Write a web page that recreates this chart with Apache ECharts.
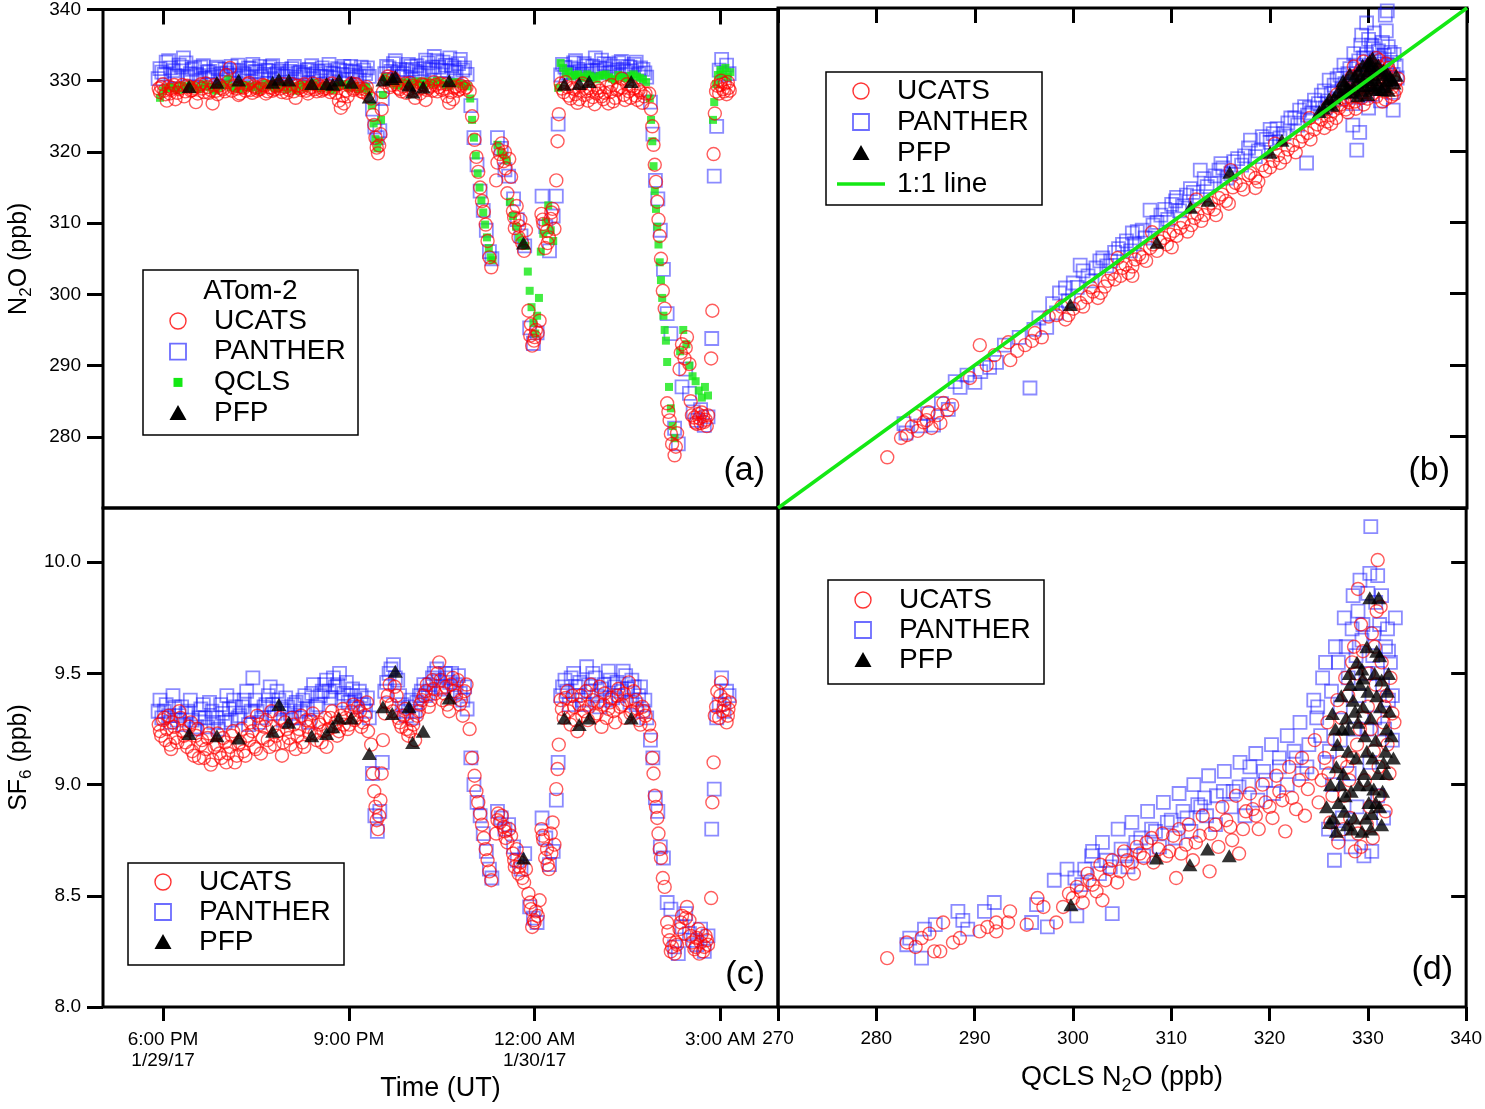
<!DOCTYPE html>
<html>
<head>
<meta charset="utf-8">
<title>ATom-2 N2O / SF6</title>
<script src="https://cdn.jsdelivr.net/npm/echarts@6/dist/echarts.min.js"></script>
<style>
html, body { margin: 0; padding: 0; background: #fff; }
#chart { width: 1485px; height: 1109px; }
</style>
</head>
<body>
<div id="chart"></div>
<script>
// time in decimal hours UT counted from 00:00 on 1/29/17
var timeMin = 17.03, timeMax = 27.93;
var timeTicks = [18, 21, 24, 27];
var timeTickLabels = ['6:00 PM\n1/29/17', '9:00 PM', '12:00 AM\n1/30/17', '3:00 AM'];
var n2oTicks = [270, 280, 290, 300, 310, 320, 330, 340];
var sf6Ticks = [8.0, 8.5, 9.0, 9.5, 10.0];
var oneToOne = [270, 340];

// UCATS: [time, N2O, SF6]
var ucats = [
 [17.93,328.9,9.27],[17.97,329.1,9.22],[18.02,328.6,9.30],[18.06,327.2,9.25],[18.11,328.2,9.18],[18.15,329.0,9.28],[18.20,327.4,9.21],[18.26,328.8,9.33],[18.31,329.4,9.24],[18.36,328.5,9.19],
 [18.42,329.1,9.26],[18.47,328.7,9.15],[18.53,327.0,9.22],[18.58,329.2,9.12],[18.63,328.9,9.20],[18.69,329.6,9.16],[18.74,328.3,9.23],[18.80,326.8,9.11],[18.86,328.6,9.18],[18.91,329.3,9.14],
 [18.97,328.8,9.21],[19.02,330.8,9.10],[19.08,331.8,9.17],[19.13,329.1,9.24],[19.19,328.9,9.13],[19.24,328.2,9.19],[19.30,329.0,9.15],[19.36,329.5,9.22],[19.41,328.7,9.28],[19.47,329.2,9.17],
 [19.52,328.6,9.31],[19.58,328.9,9.14],[19.64,329.3,9.26],[19.69,328.5,9.20],[19.75,329.0,9.33],[19.80,328.8,9.18],[19.86,329.4,9.24],[19.92,328.4,9.13],[19.97,329.1,9.28],[20.03,328.7,9.21],
 [20.08,329.5,9.30],[20.14,327.6,9.16],[20.20,329.0,9.25],[20.25,329.2,9.19],[20.31,328.6,9.29],[20.36,328.9,9.23],[20.42,329.6,9.32],[20.48,328.5,9.20],[20.53,329.1,9.27],[20.59,328.8,9.24],
 [20.64,329.3,9.17],[20.70,328.4,9.30],[20.76,329.0,9.26],[20.81,329.4,9.22],[20.87,326.2,9.31],[20.92,326.8,9.27],[20.98,327.8,9.25],[21.04,329.6,9.33],[21.09,328.9,9.29],[21.15,329.2,9.35],
 [21.20,328.5,9.26],[21.26,328.8,9.31],[21.31,328.0,9.24],
 [17.95,328.4,9.24],[18.00,329.5,9.29],[18.04,328.1,9.20],[18.09,329.2,9.31],[18.13,328.7,9.16],[18.18,329.4,9.26],[18.23,328.3,9.19],[18.28,329.0,9.30],[18.34,327.8,9.22],[18.39,329.3,9.17],
 [18.45,328.6,9.28],[18.50,329.0,9.13],[18.56,328.2,9.25],[18.61,329.5,9.18],[18.66,328.4,9.12],[18.72,329.1,9.21],[18.77,328.7,9.09],[18.83,329.4,9.17],[18.88,328.1,9.23],[18.94,329.0,9.12],
 [19.00,328.5,9.19],[19.05,329.8,9.14],[19.11,328.6,9.22],[19.16,329.3,9.10],[19.22,328.0,9.18],[19.27,329.1,9.25],[19.33,328.6,9.13],[19.39,329.7,9.20],[19.44,328.3,9.24],[19.50,329.0,9.16],
 [19.55,328.8,9.27],[19.61,329.4,9.21],[19.66,328.2,9.29],[19.72,329.1,9.17],[19.77,328.6,9.26],[19.83,329.2,9.22],[19.89,328.9,9.30],[19.94,329.5,9.19],[20.00,328.3,9.25],[20.06,329.0,9.18],
 [20.11,328.5,9.27],[20.17,329.3,9.22],[20.23,328.7,9.31],[20.28,329.5,9.17],[20.34,328.2,9.26],[20.39,329.1,9.29],[20.45,328.8,9.23],[20.51,329.4,9.28],[20.56,328.6,9.19],[20.62,329.0,9.30],
 [20.67,328.9,9.25],[20.73,329.6,9.33],[20.79,328.3,9.28],[20.84,327.2,9.24],[20.90,327.9,9.34],[20.95,328.6,9.30],[21.01,329.3,9.27],[21.07,328.7,9.36],[21.12,329.5,9.30],[21.18,328.9,9.33],
 [21.23,328.4,9.28],[21.29,329.1,9.37],
 [21.36,327.5,9.18],[21.39,325.2,9.05],[21.41,323.8,8.97],[21.43,322.0,8.90],[21.45,320.6,8.84],[21.47,319.8,8.80],[21.49,320.9,8.86],[21.51,322.5,8.93],[21.53,326.0,9.05],[21.55,328.4,9.20],
 [21.58,329.8,9.32],[21.63,330.6,9.40],[21.69,329.4,9.36],[21.74,330.1,9.44],[21.80,329.0,9.30],[21.85,328.5,9.26],[21.91,329.6,9.34],[21.96,328.8,9.22],[22.02,329.3,9.29],[22.07,327.6,9.20],
 [22.13,328.9,9.33],[22.18,329.5,9.38],[22.24,327.3,9.42],[22.29,329.0,9.35],[22.35,328.6,9.47],[22.40,329.4,9.41],[22.46,329.1,9.55],[22.51,328.7,9.38],[22.57,329.5,9.44],[22.62,326.9,9.33],
 [22.68,327.4,9.48],[22.73,329.2,9.40],[22.79,328.8,9.36],[22.84,329.6,9.31],[22.90,329.1,9.45],
 [21.61,330.2,9.37],[21.66,329.1,9.45],[21.71,330.4,9.33],[21.77,329.5,9.40],[21.82,328.8,9.28],[21.88,329.2,9.31],[21.93,328.3,9.25],[21.99,329.7,9.24],[22.04,328.6,9.27],[22.10,329.1,9.31],
 [22.15,328.2,9.36],[22.21,329.4,9.40],[22.26,328.7,9.45],[22.32,329.3,9.38],[22.37,329.8,9.43],[22.43,328.5,9.50],[22.48,329.6,9.47],[22.54,328.9,9.41],[22.59,327.8,9.36],[22.65,328.4,9.45],
 [22.70,329.0,9.42],[22.76,328.6,9.47],[22.81,329.3,9.38],[22.87,328.9,9.42],
 [22.95,328.5,9.25],[22.99,325.0,9.12],[23.03,321.7,9.04],[23.06,319.3,8.97],[23.09,317.2,8.92],[23.12,315.0,8.87],[23.15,313.1,8.82],[23.18,311.6,8.76],[23.21,309.8,8.71],[23.24,307.5,8.66],
 [23.27,305.2,8.61],[23.30,303.8,8.57],
 [23.38,316.0,8.78],[23.41,320.4,8.87],[23.44,319.7,8.83],[23.47,321.2,8.86],[23.50,318.7,8.81],[23.53,317.7,8.76],[23.56,314.2,8.74],[23.59,319.0,8.80],[23.62,316.5,8.77],
 [23.65,311.7,8.69],[23.68,309.3,8.63],[23.71,312.4,8.71],[23.74,308.0,8.60],[23.77,310.5,8.65],[23.80,307.2,8.58],[23.83,306.1,8.56],[23.86,309.0,8.62],
 [23.90,297.7,8.51],[23.93,294.2,8.47],[23.96,292.8,8.36],[23.99,293.5,8.39],[24.02,295.0,8.43],[24.05,294.6,8.41],[24.08,296.3,8.48],
 [24.11,311.3,8.80],[24.14,309.9,8.75],[24.17,306.5,8.67],[24.20,308.9,8.71],[24.23,308.0,8.62],[24.26,310.6,8.78],[24.29,312.0,8.83],[24.32,309.2,8.73],
 [23.40,318.5,8.84],[23.52,320.0,8.79],[23.67,310.8,8.66],[23.75,309.6,8.63],[23.94,295.8,8.44],[24.00,294.0,8.38],[24.13,310.5,8.77],[24.21,307.2,8.64],[24.27,311.5,8.69],
 [24.35,316.0,8.98],[24.37,321.5,9.07],[24.39,325.3,9.18],
 [24.42,329.6,9.38],[24.47,328.4,9.30],[24.53,329.1,9.42],[24.58,327.5,9.27],[24.64,328.8,9.35],[24.69,326.9,9.24],[24.75,329.3,9.40],[24.80,328.0,9.33],[24.86,327.2,9.29],[24.91,328.6,9.45],
 [24.97,326.7,9.31],[25.02,329.0,9.37],[25.08,327.8,9.26],[25.13,328.3,9.41],[25.19,326.8,9.34],[25.24,329.4,9.39],[25.30,327.6,9.28],[25.35,328.9,9.43],[25.41,330.3,9.36],[25.46,327.3,9.30],
 [25.52,328.5,9.46],[25.57,329.2,9.33],[25.63,327.9,9.38],[25.68,328.7,9.29],[25.74,326.9,9.35],[25.79,328.2,9.31],
 [24.44,328.9,9.34],[24.50,329.8,9.39],[24.55,327.9,9.33],[24.61,329.0,9.40],[24.66,328.1,9.29],[24.72,327.4,9.36],[24.77,329.6,9.31],[24.83,328.5,9.42],[24.88,329.0,9.35],[24.94,327.7,9.38],
 [25.00,328.2,9.32],[25.05,328.6,9.44],[25.11,327.4,9.36],[25.16,329.1,9.30],[25.22,328.4,9.37],[25.27,327.1,9.33],[25.33,328.7,9.40],[25.38,329.1,9.35],[25.44,328.0,9.41],[25.49,329.5,9.38],
 [25.55,327.6,9.32],[25.60,328.9,9.42],[25.66,327.3,9.34],[25.71,328.4,9.27],[25.77,327.8,9.33],
 [25.85,328.2,9.27],[25.88,326.0,9.22],[25.90,323.6,9.12],[25.92,321.0,9.05],[25.94,318.2,8.95],[25.96,315.8,8.90],[25.98,313.0,8.85],[26.00,310.5,8.78],[26.02,308.2,8.71],[26.04,305.0,8.67],
 [26.07,300.5,8.58],[26.10,298.0,8.54],
 [26.14,284.7,8.38],[26.18,282.3,8.30],[26.22,279.0,8.27],[26.26,277.4,8.24],[26.30,280.5,8.28],[26.34,289.5,8.35],[26.38,293.0,8.41],[26.42,291.0,8.33],[26.46,294.0,8.45],[26.50,290.2,8.39],
 [26.54,283.0,8.29],[26.58,282.7,8.26],[26.62,281.8,8.31],[26.66,282.6,8.24],[26.70,283.4,8.33],[26.74,282.1,8.27],[26.78,281.5,8.30],
 [26.16,283.5,8.34],[26.20,280.4,8.25],[26.28,278.6,8.29],[26.36,291.8,8.38],[26.44,292.5,8.40],[26.52,285.0,8.32],[26.60,282.0,8.27],[26.64,283.2,8.35],[26.68,281.9,8.29],[26.72,282.9,8.25],
 [26.76,282.4,8.32],[26.80,283.0,8.28],
 [26.85,291.0,8.49],[26.87,297.7,8.92],[26.89,319.7,9.10],[26.91,325.4,9.31],[26.93,328.5,9.35],[26.95,329.3,9.42],[26.98,328.2,9.30],[27.01,330.0,9.46],[27.04,328.8,9.33],[27.07,329.6,9.38],
 [27.10,328.1,9.28],[27.13,329.0,9.34],[27.00,329.4,9.40],[27.06,328.5,9.36],[27.12,329.8,9.31],[27.15,328.6,9.37]
];

// PANTHER: [time, N2O, SF6]
var panther = [
 [17.92,330.3,9.33],[17.98,331.2,9.30],[18.05,332.6,9.36],[18.12,331.8,9.28],[18.19,330.7,9.35],[18.26,332.2,9.31],[18.33,333.2,9.27],[18.40,330.5,9.33],[18.47,331.6,9.29],[18.54,330.9,9.26],
 [18.61,331.9,9.34],[18.68,330.4,9.30],[18.75,331.3,9.37],[18.82,330.8,9.28],[18.89,331.7,9.25],[18.96,330.6,9.32],[19.03,331.1,9.40],[19.10,332.0,9.29],[19.17,330.7,9.35],[19.24,331.4,9.31],
 [19.31,330.9,9.38],[19.38,331.8,9.27],[19.45,332.3,9.48],[19.52,331.2,9.33],[19.59,330.6,9.30],[19.66,331.5,9.36],[19.73,331.9,9.44],[19.80,330.8,9.32],[19.87,331.3,9.38],[19.94,330.6,9.29],
 [20.01,331.0,9.35],[20.08,331.7,9.30],[20.15,330.5,9.37],[20.22,331.2,9.33],[20.29,330.9,9.40],[20.36,331.6,9.28],[20.43,330.7,9.45],[20.50,331.3,9.36],[20.57,331.8,9.42],[20.64,330.6,9.47],
 [20.71,331.1,9.39],[20.78,330.4,9.44],[20.85,331.5,9.50],[20.92,332.0,9.41],[20.99,330.8,9.37],[21.06,331.3,9.43],[21.13,330.5,9.35],[21.20,331.9,9.40],[21.27,331.0,9.33],[21.33,330.6,9.30],
 [17.95,331.7,9.38],[18.02,330.9,9.33],[18.09,332.8,9.31],[18.16,331.4,9.40],[18.23,330.6,9.29],[18.30,331.9,9.35],[18.37,332.5,9.32],[18.44,331.0,9.38],[18.51,331.8,9.25],[18.58,330.7,9.30],
 [18.65,332.1,9.36],[18.72,331.2,9.26],[18.79,330.5,9.33],[18.86,331.9,9.30],[18.93,331.0,9.36],[19.00,331.6,9.28],[19.07,330.8,9.34],[19.14,331.5,9.38],[19.21,332.2,9.30],[19.28,331.1,9.35],
 [19.35,330.6,9.42],[19.42,331.7,9.33],[19.49,331.3,9.38],[19.56,332.0,9.28],[19.63,330.9,9.35],[19.70,331.4,9.40],[19.77,332.1,9.36],[19.84,331.0,9.42],[19.91,331.6,9.34],[19.98,330.7,9.39],
 [20.05,331.3,9.32],[20.12,332.0,9.36],[20.19,331.1,9.30],[20.26,330.8,9.38],[20.33,331.5,9.34],[20.40,332.1,9.41],[20.47,331.0,9.35],[20.54,330.6,9.40],[20.61,331.4,9.45],[20.68,332.3,9.42],
 [20.75,331.0,9.48],[20.82,331.7,9.45],[20.89,330.9,9.38],[20.96,331.4,9.46],[21.03,332.0,9.40],[21.10,331.2,9.38],[21.17,330.7,9.42],[21.24,331.5,9.36],[21.30,331.8,9.39],
 [21.38,326.0,9.05],[21.42,323.5,8.86],[21.46,322.0,8.79],[21.50,323.0,8.88],[21.54,327.5,9.10],
 [21.58,331.0,9.42],[21.65,331.8,9.50],[21.72,332.4,9.54],[21.79,331.2,9.47],[21.86,330.6,9.36],[21.93,331.5,9.31],[22.00,332.0,9.38],[22.07,331.3,9.33],[22.14,330.8,9.40],[22.21,331.7,9.45],
 [22.28,332.5,9.41],[22.35,331.9,9.48],[22.42,332.8,9.52],[22.49,331.4,9.44],[22.56,332.2,9.50],[22.63,333.2,9.46],[22.70,331.8,9.42],[22.77,332.4,9.49],[22.84,331.5,9.38],[22.91,330.9,9.34],
 [21.61,332.0,9.46],[21.68,331.3,9.52],[21.75,332.8,9.48],[21.82,331.6,9.40],[21.89,331.0,9.33],[21.96,332.3,9.35],[22.03,331.6,9.30],[22.10,332.1,9.37],[22.17,331.1,9.42],[22.24,332.9,9.40],
 [22.31,331.5,9.45],[22.38,333.4,9.50],[22.45,331.9,9.47],[22.52,332.6,9.43],[22.59,331.4,9.48],[22.66,332.1,9.50],[22.73,331.2,9.45],[22.80,333.0,9.41],[22.87,331.8,9.44],
 [22.97,326.5,9.12],[23.02,322.0,9.00],[23.07,318.2,8.92],[23.12,314.5,8.86],[23.17,311.8,8.78],[23.22,309.0,8.70],[23.27,306.0,8.62],[23.31,305.0,8.58],
 [23.40,322.0,8.88],[23.46,320.5,8.85],[23.52,317.5,8.80],[23.58,316.6,8.82],
 [23.66,313.4,8.72],[23.72,310.5,8.66],[23.78,308.2,8.62],[23.84,306.8,8.69],
 [23.92,295.3,8.45],[23.98,293.1,8.40],[24.04,294.6,8.38],
 [24.12,313.8,8.85],[24.18,309.5,8.76],[24.24,306.1,8.64],[24.30,311.0,8.70],
 [24.35,313.8,8.93],[24.38,323.9,9.10],
 [24.42,330.8,9.40],[24.49,331.9,9.47],[24.56,331.2,9.36],[24.63,332.5,9.50],[24.70,331.6,9.44],[24.77,330.9,9.38],[24.84,332.1,9.53],[24.91,331.4,9.42],[24.98,333.2,9.48],[25.05,331.8,9.35],
 [25.12,332.4,9.45],[25.19,331.1,9.51],[25.26,332.0,9.39],[25.33,331.5,9.46],[25.40,332.7,9.42],[25.47,331.3,9.49],[25.54,331.9,9.37],[25.61,332.3,9.44],[25.68,331.0,9.40],[25.75,331.6,9.33],
 [25.81,330.5,9.30],
 [24.45,332.3,9.44],[24.52,331.1,9.42],[24.59,331.8,9.48],[24.66,332.8,9.40],[24.73,331.3,9.46],[24.80,332.4,9.36],[24.87,331.0,9.45],[24.94,332.0,9.50],[25.01,331.5,9.40],[25.08,332.9,9.43],
 [25.15,331.7,9.38],[25.22,332.3,9.47],[25.29,331.2,9.44],[25.36,332.5,9.40],[25.43,331.6,9.51],[25.50,332.0,9.43],[25.57,331.4,9.47],[25.64,332.6,9.36],[25.71,331.8,9.44],[25.78,331.1,9.38],
 [25.87,327.0,9.20],[25.91,322.5,9.12],[25.95,316.0,8.94],[25.99,313.4,8.88],[26.03,309.0,8.72],[26.08,303.5,8.67],
 [26.14,297.3,8.47],[26.20,294.5,8.44],[26.26,281.2,8.27],[26.32,279.0,8.24],[26.38,287.0,8.36],[26.44,289.5,8.42],[26.50,286.1,8.33],[26.56,283.5,8.30],[26.62,282.3,8.28],[26.68,283.8,8.35],
 [26.74,281.6,8.25],[26.80,282.8,8.32],
 [26.86,293.8,8.80],[26.90,316.6,8.98],[26.94,323.6,9.30],[26.98,331.5,9.36],[27.02,333.0,9.48],[27.06,330.8,9.33],[27.10,332.2,9.42],[27.14,331.0,9.40]
];

// QCLS: [time, N2O]
var qcls = [
 [17.95,327.6],[18.05,328.9],[18.15,329.0],[18.25,328.7],[18.35,329.2],[18.45,329.4],[18.55,328.8],[18.65,329.5],[18.75,329.1],[18.85,328.6],
 [18.95,329.3],[19.05,330.2],[19.15,329.0],[19.25,328.8],[19.35,329.4],[19.45,329.1],[19.55,328.7],[19.65,329.6],[19.75,329.2],[19.85,328.9],
 [19.95,329.3],[20.05,329.0],[20.15,328.6],[20.25,329.4],[20.35,329.2],[20.45,329.7],[20.55,328.9],[20.65,329.1],[20.75,328.7],[20.85,329.3],
 [20.95,329.5],[21.05,329.2],[21.15,328.8],[21.25,329.0],[21.32,328.5],
 [18.00,328.6],[18.10,329.1],[18.20,328.9],[18.30,329.3],[18.40,329.0],[18.50,329.2],[18.60,328.9],[18.70,329.3],[18.80,328.8],[18.90,329.0],
 [19.00,329.4],[19.10,329.1],[19.20,328.9],[19.30,329.2],[19.40,329.0],[19.50,329.3],[19.60,329.1],[19.70,329.4],[19.80,329.0],[19.90,329.2],
 [20.00,328.8],[20.10,329.1],[20.20,329.3],[20.30,329.0],[20.40,329.4],[20.50,329.1],[20.60,329.2],[20.70,328.9],[20.80,329.1],[20.90,329.4],
 [21.00,329.0],[21.10,329.3],[21.20,328.9],[21.28,329.1],
 [21.37,326.5],[21.40,324.0],[21.43,321.8],[21.46,320.5],[21.49,321.5],[21.52,324.5],[21.55,328.0],[21.58,330.5],
 [21.62,330.0],[21.72,329.6],[21.82,329.3],[21.92,329.8],[22.02,329.5],[22.12,329.9],[22.22,329.4],[22.32,329.7],[22.42,330.0],[22.52,329.6],
 [22.62,329.3],[22.72,329.8],[22.82,329.5],[22.92,329.2],
 [21.67,329.9],[21.77,329.4],[21.87,329.7],[21.97,329.5],[22.07,329.8],[22.17,329.6],[22.27,329.9],[22.37,329.5],[22.47,329.8],[22.57,329.4],
 [22.67,329.7],[22.77,329.6],[22.87,329.3],
 [22.96,327.5],[22.99,324.5],[23.02,322.0],[23.05,319.5],[23.08,317.0],[23.11,315.0],[23.14,313.2],[23.17,311.5],[23.20,309.8],[23.23,308.0],
 [23.26,306.5],[23.29,305.2],[23.32,304.8],
 [23.40,321.0],[23.45,320.0],[23.50,319.5],[23.55,318.8],[23.60,313.0],[23.65,311.0],[23.70,309.5],[23.75,308.0],[23.80,307.2],[23.85,306.8],
 [23.89,303.2],[23.92,300.5],[23.95,298.2],[23.98,296.0],[24.01,294.5],[24.04,297.0],[24.07,299.5],
 [24.10,306.0],[24.14,308.5],[24.18,310.2],[24.22,312.5],[24.26,309.0],[24.30,307.5],
 [24.38,329.0],[24.42,332.5],[24.46,331.8],[24.50,331.0],[24.60,330.6],[24.70,330.9],[24.80,330.4],[24.90,330.7],[25.00,330.2],[25.10,330.8],
 [25.20,330.5],[25.30,330.1],[25.40,330.6],[25.50,330.3],[25.60,330.9],[25.70,330.4],[25.80,329.8],
 [24.55,331.3],[24.65,330.8],[24.75,330.6],[24.85,330.9],[24.95,330.5],[25.05,330.7],[25.15,330.9],[25.25,330.3],[25.35,330.8],[25.45,330.4],
 [25.55,330.7],[25.65,330.6],[25.75,330.2],
 [25.86,327.5],[25.88,324.5],[25.90,321.5],[25.92,318.0],[25.94,314.5],[25.96,312.0],[25.98,309.5],[26.00,307.0],[26.02,304.5],[26.04,302.0],
 [26.06,299.5],[26.08,297.0],[26.10,295.0],[26.12,293.5],
 [26.14,290.5],[26.17,287.0],[26.20,284.0],[26.23,281.5],[26.26,279.8],[26.35,292.0],[26.40,295.0],[26.45,293.0],[26.50,290.0],[26.55,288.5],
 [26.60,287.8],[26.65,286.5],[26.70,285.5],[26.75,287.0],[26.80,285.8],
 [26.88,324.5],[26.90,327.0],[26.93,329.5],[26.96,330.8],[27.00,331.5],[27.04,330.9],[27.08,331.8],[27.12,330.5],[27.16,331.2]
];

// PFP flasks: [time, N2O, SF6]
var pfp = [
 [18.42,329.2,9.23],[18.87,329.8,9.22],[19.22,330.1,9.21],[19.77,329.8,9.24],[19.87,330.2,9.36],[20.03,330.1,9.28],[20.40,329.6,9.22],[20.64,329.6,9.23],
 [20.74,329.5,9.26],[20.84,330.1,9.30],[21.04,329.8,9.30],[21.33,327.7,9.14],[21.55,330.1,9.35],[21.70,330.3,9.32],[21.75,330.6,9.51],[21.97,329.4,9.35],
 [22.03,328.4,9.19],[22.20,329.1,9.24],[22.62,330.0,9.39],[23.82,307.2,8.67],[24.48,329.5,9.30],[24.72,329.6,9.27],[24.88,329.9,9.30],[25.56,329.9,9.30]
];

// panel (b): [QCLS N2O, instrument N2O]
var ucatsVsQclsN2O = [
 [281.1,277.1],[283.1,280.2],[283.6,281.4],[284.2,280.8],[284.8,282.0],[285.1,282.3],[285.6,281.2],[286.2,283.0],[286.5,281.9],[286.8,284.7],
 [287.7,284.4],[290.5,292.8],[292.0,291.4],[293.4,293.2],[293.6,290.7],[295.1,292.8],[296.1,294.5],[296.8,293.9],[298.3,297.0],[299.2,296.4],
 [300.0,297.9],[300.7,298.7],[301.4,299.5],[302.0,300.3],[302.8,300.1],[303.5,301.8],[304.2,302.0],[305.0,303.6],[305.6,302.9],[306.3,304.8],
 [307.0,305.1],[307.8,306.4],[308.5,306.0],[309.2,307.8],[309.8,308.3],[310.5,308.1],[311.2,310.0],[312.0,309.6],[312.6,311.2],[313.3,311.0],
 [314.0,312.7],[314.8,313.4],[315.5,313.0],[316.2,314.9],[317.0,315.2],[317.8,316.6],[318.5,316.2],[319.2,318.0],[320.0,317.7],[320.8,319.4],
 [321.5,319.1],[322.3,320.8],[323.0,321.3],[323.8,322.5],[324.5,323.0],[325.2,324.4],[325.8,324.1],[326.4,325.6],[327.0,326.0],[327.5,327.2],
 [328.0,326.8],[328.4,328.3],[328.8,327.6],[329.1,328.9],[329.4,328.2],[329.7,329.5],[330.0,328.8],[330.3,329.7],[330.6,329.1],[330.9,330.2],
 [331.2,328.6],[331.5,329.8],[331.8,330.6],[332.1,329.3],[332.4,328.9],[332.7,329.6],[333.0,330.1],[329.0,330.8],[328.2,329.9],[330.5,331.4],
 [331.0,331.8],[327.8,328.5],[332.3,327.6],[331.7,327.2],[326.8,327.9],[329.9,327.3],[329.5,332.5],[330.8,333.0],[328.5,331.8],[331.8,332.2],
 [316.0,317.3],[312.5,313.2],[308.0,308.6],[304.5,305.0],[320.5,321.0],[324.0,324.6],[310.0,306.5],[314.5,311.0],[318.5,314.8],[306.0,302.5],
 [301.0,298.2],[301.8,300.9],[302.5,299.4],[303.2,301.0],[303.9,302.8],[304.8,302.5],[305.3,304.1],[306.0,303.8],[306.7,305.5],[307.4,304.6],
 [308.1,306.9],[308.8,307.3],[309.5,306.9],[310.2,308.8],[310.9,309.2],[311.6,308.7],[312.3,310.6],[313.0,310.2],[313.7,312.0],[314.3,311.8],
 [315.1,313.9],[315.8,312.6],[316.5,315.5],[317.3,314.6],[318.0,316.9],[318.8,315.7],[319.5,317.2],[320.3,318.6],[321.0,318.3],[321.8,320.2],
 [322.6,319.8],[323.3,322.0],[324.1,321.6],[324.8,323.7],[325.5,323.2],[326.1,325.0],[326.7,324.6],[327.2,326.5],[327.7,325.8],[328.1,327.6],
 [328.6,326.9],[328.9,328.7],[329.3,327.4],[329.6,330.1],[329.8,328.4],[330.1,330.5],[330.4,328.0],[330.7,330.8],[331.0,329.5],[331.3,331.2],
 [331.6,328.3],[331.9,329.9],[332.2,331.0],[332.5,330.4],[332.8,328.6],[327.4,328.8],[328.3,330.4],[329.2,331.3],[330.2,332.1],[331.1,332.7],
 [332.0,331.6],[326.5,326.9],[325.9,326.2],[328.7,325.9],[330.8,327.6],[332.6,327.9],[327.9,325.4],[329.5,326.5],[331.4,326.9],[326.2,323.8],
 [282.5,279.8],[284.0,282.9],[285.3,283.4],[287.2,283.7],[289.5,288.2],[291.2,290.0],[294.3,292.0],[295.8,293.4],[297.5,296.8],[298.8,298.2],
 [299.5,297.0]
];
var pantherVsQclsN2O = [
 [283.0,280.5],[284.5,281.5],[285.8,281.6],[287.3,283.8],[288.5,286.9],[289.2,288.6],[290.0,287.6],[291.5,289.7],[292.2,290.4],[295.6,286.8],
 [296.5,296.6],[297.3,295.3],[298.3,297.3],[298.6,300.1],[299.5,299.0],[300.4,300.9],[300.7,304.0],[301.5,302.5],[302.3,303.6],[303.0,305.0],
 [303.8,304.6],[304.6,306.3],[305.4,307.4],[306.2,307.0],[307.0,308.9],[307.8,311.7],[308.5,310.0],[309.3,311.8],[310.0,312.5],[310.8,311.6],
 [311.5,313.8],[312.2,314.2],[312.9,317.3],[313.6,315.0],[314.4,316.5],[315.2,317.6],[316.0,316.8],[316.7,318.9],[317.4,319.3],[318.0,321.5],
 [318.8,320.0],[319.6,321.6],[320.3,322.4],[321.0,321.8],[321.8,323.9],[322.5,324.6],[323.0,325.7],[323.7,318.3],[323.8,325.0],[324.5,327.1],
 [325.2,327.8],[325.9,327.0],[326.5,329.2],[327.1,330.6],[327.6,329.4],[328.1,331.5],[328.4,323.6],[328.6,330.4],[328.8,320.1],[329.0,332.6],
 [329.1,322.6],[329.4,331.2],[329.8,333.5],[329.8,337.9],[330.0,326.0],[330.2,332.0],[330.5,334.3],[330.6,336.5],[330.8,331.0],[331.1,333.0],
 [331.2,327.0],[331.4,335.2],[331.7,339.0],[331.9,332.1],[331.9,339.6],[332.2,333.8],[332.4,328.2],[332.5,325.7],[332.5,330.7],[332.8,331.9],
 [328.4,326.6],[329.2,334.8],[327.5,332.0],[326.0,329.9],[324.0,326.0],[320.0,323.0],[315.0,318.2],[310.5,313.5],[306.0,308.5],
 [300.0,301.5],[301.0,303.2],[301.9,301.8],[302.7,304.6],[303.4,303.9],[304.2,305.8],[305.0,306.9],[305.8,306.0],[306.5,308.7],[307.3,307.8],
 [308.1,309.6],[308.9,311.0],[309.6,310.4],[310.4,313.0],[311.1,312.3],[311.9,314.7],[312.6,313.6],[313.3,316.1],[314.0,315.4],[314.8,317.3],
 [315.6,316.2],[316.3,318.5],[317.1,318.0],[317.8,320.4],[318.5,319.2],[319.2,322.0],[320.0,321.2],[320.7,323.1],[321.4,322.4],[322.1,324.6],
 [322.8,323.6],[323.5,326.2],[324.2,325.3],[324.9,326.6],[325.5,328.4],[326.2,328.0],[326.8,330.1],[327.3,328.6],[327.9,330.8],[328.3,329.2],
 [328.7,332.0],[329.1,330.3],[329.5,333.0],[329.9,331.6],[330.3,334.8],[330.6,332.7],[331.0,334.0],[331.3,331.8],[331.6,333.4],[332.0,334.6],
 [332.3,332.4],[332.6,333.5],[332.9,330.2],[330.9,329.4],[329.6,328.3],[331.5,330.1],[328.9,327.5],[330.4,327.9],[327.0,327.2],[325.6,326.0],
 [331.8,336.8],[330.0,335.6],[328.5,333.6],[329.3,336.2],
 [282.8,281.8],[285.2,283.2],[286.6,284.6],[288.0,287.7],[290.6,289.1],[293.0,292.8],[294.5,293.9],[296.0,295.0],[297.9,298.6],[299.2,300.8]
];
var pfpVsQclsN2O = [
 [299.7,298.5],[308.5,307.2],[311.9,312.1],[313.7,313.1],[315.9,317.0],[320.0,319.8],[321.2,321.5],[325.0,325.5],[325.8,326.6],[326.5,327.4],
 [327.2,328.1],[327.8,329.0],[328.3,328.2],[328.8,329.6],[329.2,330.4],[329.6,329.1],[330.0,331.2],[330.3,330.0],[330.7,331.6],[331.0,329.4],
 [331.4,330.7],[331.8,329.8],[332.2,330.3],[332.6,329.5],[329.4,332.0],[330.1,332.6],[328.1,330.8],[327.4,329.8],[331.3,328.6],[330.5,328.8],
 [329.9,327.9],[328.9,327.7],[332.0,328.5],
 [325.4,326.0],[326.0,327.3],[326.9,328.3],[327.5,329.4],[328.0,328.7],[328.6,330.5],[329.0,331.3],[329.4,329.7],[329.8,330.8],[330.2,331.9],
 [330.6,330.3],[331.0,332.0],[331.5,331.3],[331.9,330.9],[332.4,330.0],[332.8,330.6],[331.6,329.0],[330.9,328.6],[330.2,329.2],[329.3,328.5],
 [328.4,329.0],[327.7,328.3],[326.3,326.4],[330.4,333.0],[329.9,332.3]
];

// panel (d): [QCLS N2O, instrument SF6]
var ucatsVsQclsSF6 = [
 [281.1,8.22],[283.1,8.29],[284.0,8.27],[284.6,8.31],[285.4,8.33],[285.9,8.25],[286.5,8.25],[286.8,8.38],[287.8,8.29],[288.5,8.31],
 [290.5,8.34],[291.3,8.36],[292.2,8.34],[292.2,8.38],[293.4,8.38],[293.6,8.43],[295.3,8.37],[296.4,8.49],[297.0,8.45],[298.3,8.38],
 [299.0,8.45],[299.6,8.51],[300.4,8.54],[301.0,8.47],[301.7,8.57],[302.4,8.52],[303.0,8.48],[303.7,8.62],[304.5,8.56],[305.5,8.66],
 [306.2,8.60],[306.8,8.69],[307.5,8.74],[308.2,8.65],[309.1,8.78],[309.8,8.70],[310.5,8.58],[310.8,8.80],[311.5,8.73],[312.2,8.66],
 [312.9,8.77],[313.9,8.61],[314.5,8.82],[315.6,8.84],[316.2,8.75],[316.9,8.69],[317.6,8.88],[318.3,8.89],[318.9,8.80],[319.6,8.92],
 [320.3,8.85],[321.0,8.97],[321.6,8.79],[322.3,8.94],[323.0,9.02],[323.6,8.86],[324.3,9.05],[325.0,8.92],[325.6,9.12],[326.2,8.83],
 [326.6,9.20],[327.0,8.74],[327.3,9.30],[327.6,8.95],[328.0,9.40],[328.2,8.85],[328.5,9.12],[328.8,9.50],[329.0,8.78],[329.2,9.25],
 [329.5,9.60],[329.7,9.02],[330.0,9.35],[330.2,8.90],[330.4,9.68],[330.6,9.15],[330.8,9.45],[331.0,10.01],[331.2,8.95],[331.4,9.55],
 [331.6,9.28],[331.9,9.40],[332.2,9.05],[332.5,9.32],[327.9,9.08],[329.3,8.72],[330.9,9.78],[328.6,9.62],[331.5,9.20],
 [300.0,8.49],[300.8,8.52],[301.5,8.60],[302.0,8.55],[302.8,8.64],[303.3,8.57],[304.0,8.66],[304.8,8.61],[305.2,8.70],[306.0,8.65],
 [306.5,8.72],[307.2,8.67],[308.0,8.76],[308.7,8.71],[309.5,8.68],[310.2,8.77],[311.0,8.69],[311.8,8.82],[312.5,8.74],[313.2,8.86],
 [314.0,8.78],[314.8,8.72],[315.2,8.90],[316.0,8.81],[316.6,8.95],[317.3,8.80],[318.0,8.96],[318.6,8.86],[319.3,9.00],[320.0,8.90],
 [320.7,9.04],[321.3,8.93],[322.0,9.08],[322.7,8.89],[323.3,9.12],[323.9,8.98],[324.6,9.20],[325.3,9.02],[325.9,9.28],[326.4,8.95],
 [326.9,9.38],[327.2,9.10],[327.7,9.48],[328.1,9.02],[328.4,9.55],[328.9,9.18],[329.3,9.72],[329.6,9.30],[329.9,8.82],[330.1,9.50],
 [330.5,8.76],[330.7,9.62],[331.1,9.08],[331.3,9.80],[331.7,9.35],[332.0,9.18],[332.3,9.48],[332.7,9.28],[326.0,9.05],[327.5,8.80],
 [328.7,8.70],[330.3,9.25],[331.8,8.88],[329.0,9.88]
];
var pantherVsQclsSF6 = [
 [283.1,8.28],[283.4,8.31],[284.6,8.22],[284.9,8.35],[286.0,8.37],[288.3,8.43],[288.8,8.39],[289.3,8.35],[291.0,8.43],[292.0,8.47],
 [295.8,8.38],[296.3,8.46],[297.4,8.36],[298.1,8.57],[299.4,8.62],[300.4,8.41],[300.9,8.55],[301.9,8.68],[302.7,8.60],[303.4,8.66],
 [304.0,8.42],[304.9,8.71],[305.6,8.63],[306.4,8.74],[307.2,8.68],[308.0,8.80],[308.8,8.72],[309.6,8.83],[310.4,8.76],[311.2,8.88],
 [312.0,8.79],[312.7,8.91],[313.4,8.94],[313.6,8.86],[314.5,8.82],[315.3,8.97],[316.1,8.90],[316.9,8.99],[317.5,8.86],[318.0,9.08],
 [318.8,8.93],[319.6,9.02],[320.4,8.96],[321.0,9.12],[321.8,9.00],[322.7,9.12],[323.3,9.05],[324.0,9.18],[324.8,9.30],[324.9,9.35],
 [325.4,9.48],[325.8,9.10],[326.3,9.42],[326.6,8.66],[327.0,9.55],[327.4,8.85],[327.8,9.62],[328.1,9.05],[328.4,9.70],[328.7,9.25],
 [329.0,9.78],[329.1,9.40],[329.4,9.65],[329.6,8.68],[329.8,9.50],[330.0,9.86],[330.3,10.16],[330.5,9.58],[330.7,9.30],[331.0,9.94],
 [331.2,9.72],[331.5,9.45],[331.8,9.62],[332.1,9.38],[332.3,9.55],[332.5,9.20],[331.0,8.95],[327.2,9.20],[328.9,8.90],[330.2,9.10],
 [326.0,8.80],[332.0,9.70],[330.8,9.82],
 [300.2,8.58],[301.2,8.62],[302.0,8.70],[303.0,8.74],[303.8,8.63],[304.6,8.80],[305.3,8.68],[306.0,8.83],[306.9,8.76],[307.6,8.88],
 [308.4,8.79],[309.2,8.92],[310.0,8.84],[310.8,8.96],[311.6,8.85],[312.3,9.00],[313.0,8.90],[313.8,9.04],[314.6,8.95],[315.4,9.06],
 [316.3,8.97],[317.0,9.10],[317.9,9.00],[318.6,9.14],[319.4,9.06],[320.2,9.18],[321.0,9.08],[321.8,9.22],[322.5,9.15],[323.1,9.28],
 [323.8,9.08],[324.5,9.38],[325.2,9.22],[325.7,9.55],[326.1,9.15],[326.7,9.62],[327.2,9.35],[327.6,9.75],[328.0,9.48],[328.5,9.85],
 [328.8,9.58],[329.2,9.92],[329.5,9.72],[329.9,9.25],[330.2,9.95],[330.6,9.68],[331.0,9.50],[331.4,9.85],[331.7,9.25],[332.1,9.60],
 [332.5,9.40],[332.8,9.75],[327.0,8.78],[328.3,8.72],[330.4,8.70],[331.6,8.85],[326.4,9.00]
];
var pfpVsQclsSF6 = [
 [299.8,8.46],[308.5,8.67],[311.9,8.64],[313.7,8.71],[315.9,8.68],[330.2,9.84],[331.1,9.84],[329.4,9.52],[331.4,9.47],[326.4,9.32],
 [332.2,9.33],[330.0,9.42],[328.5,9.38],[327.4,9.25],[329.0,9.28],[330.8,9.20],[331.6,9.10],[328.0,9.15],[326.8,9.08],[329.6,9.05],
 [330.6,8.98],[327.7,8.95],[325.8,8.90],[326.1,8.83],[326.8,8.79],[329.4,8.79],[330.4,8.87],[328.6,8.85],[331.2,8.90],[327.2,9.00],
 [329.9,9.15],[328.2,9.45],[330.9,9.60],[329.5,9.35],[331.9,9.25],[327.9,8.82],[330.0,9.00],
 [326.5,8.85],[327.0,8.92],[327.5,9.05],[328.0,9.25],[328.3,8.97],[328.8,9.12],[329.2,9.45],[329.7,9.22],[330.1,8.92],[330.3,9.30],
 [330.7,9.50],[331.0,9.05],[331.3,9.35],[331.8,9.15],[332.0,9.42],[332.4,9.22],[327.3,9.40],[328.9,9.55],[330.5,9.12],[331.5,8.97],
 [326.9,9.18],[328.4,8.80],[329.8,8.85],[330.9,9.40],[331.9,9.05],[327.8,9.30],[329.1,9.00],[330.3,8.80],[328.7,9.33],[332.1,9.50],
 [326.7,9.25],[329.5,9.48],[330.8,8.92],[327.6,8.88],[331.2,9.58],[329.9,9.62],[328.1,9.50],[326.2,9.00],[332.6,9.12],[331.4,8.82]
];

var FONT = '"Liberation Sans", Arial, Helvetica, sans-serif';
var RED = 'rgba(255,0,0,0.8)';
var BLUE = 'rgba(20,20,255,0.62)';
var GREEN = '#14e814';

function col(rows, j) {
    return rows.map(function (r) { return [r[0], r[j]]; });
}

function circles(name, data, xi, yi) {
    return { type: 'scatter', name: name, xAxisIndex: xi, yAxisIndex: yi, data: data,
        symbol: 'circle', symbolSize: 13, silent: true,
        itemStyle: { color: 'rgba(0,0,0,0)', borderColor: RED, borderWidth: 1.4 } };
}
function squares(name, data, xi, yi) {
    return { type: 'scatter', name: name, xAxisIndex: xi, yAxisIndex: yi, data: data,
        symbol: 'rect', symbolSize: 13, silent: true,
        itemStyle: { color: 'rgba(0,0,0,0)', borderColor: BLUE, borderWidth: 1.8 } };
}
function dots(name, data, xi, yi) {
    return { type: 'scatter', name: name, xAxisIndex: xi, yAxisIndex: yi, data: data,
        symbol: 'rect', symbolSize: 8, silent: true, itemStyle: { color: GREEN } };
}
function triangles(name, data, xi, yi) {
    return { type: 'scatter', name: name, xAxisIndex: xi, yAxisIndex: yi, data: data,
        symbol: 'triangle', symbolSize: [15, 13], silent: true, itemStyle: { color: '#000' } };
}

var tickLine = { color: '#000', width: 3 };
var labelFont = { color: '#000', fontSize: 19, fontFamily: FONT };
var subRich = {
    t: { fontSize: 25, fontFamily: FONT, color: '#000', lineHeight: 32 },
    s: { fontSize: 17, fontFamily: FONT, color: '#000', lineHeight: 17, verticalAlign: 'bottom' }
};

function hiddenAxis(grid, pos, min, max) {
    return { gridIndex: grid, type: 'value', position: pos, min: min, max: max, show: false,
        axisLine: { onZero: false }, splitLine: { show: false } };
}
function tickAxis(grid, pos, min, max, ticks, len, inside) {
    return { gridIndex: grid, type: 'value', position: pos, min: min, max: max,
        axisLine: { show: false, onZero: false }, splitLine: { show: false },
        axisTick: { show: true, inside: inside, length: len, lineStyle: tickLine, customValues: ticks },
        axisLabel: { show: false } };
}

var xTime = tickAxis(2, 'bottom', timeMin, timeMax, timeTicks, 14, false);
xTime.axisLabel = Object.assign({ show: true, customValues: timeTicks, margin: 22, lineHeight: 21,
    formatter: function (v) {
        for (var i = 0; i < timeTicks.length; i++) if (Math.abs(timeTicks[i] - v) < 1e-6) return timeTickLabels[i];
        return '';
    } }, labelFont);
xTime.name = 'Time (UT)';
xTime.nameLocation = 'middle';
xTime.nameGap = 68;
xTime.nameTextStyle = { fontSize: 27, fontFamily: FONT, color: '#000' };

var xQcls = tickAxis(3, 'bottom', 270, 340, n2oTicks, 14, false);
xQcls.axisLabel = Object.assign({ show: true, customValues: n2oTicks, margin: 22, showMinLabel: true, showMaxLabel: true }, labelFont);
xQcls.name = '{t|QCLS N}{s|2}{t|O (ppb)}';
xQcls.nameLocation = 'middle';
xQcls.nameGap = 54;
xQcls.nameTextStyle = { rich: { t: { fontSize: 27, fontFamily: FONT, color: '#000', lineHeight: 34 },
    s: { fontSize: 18, fontFamily: FONT, color: '#000', lineHeight: 18, verticalAlign: 'bottom' } } };

var yN2O = tickAxis(0, 'left', 270, 340, n2oTicks.slice(1), 16, false);
yN2O.axisLabel = Object.assign({ show: true, customValues: n2oTicks.slice(1), margin: 22, showMaxLabel: true }, labelFont);
yN2O.name = '{t|N}{s|2}{t|O (ppb)}';
yN2O.nameLocation = 'middle';
yN2O.nameGap = 68;
yN2O.nameTextStyle = { rich: subRich };

var ySF6 = tickAxis(2, 'left', 8.0, 10.244, sf6Ticks, 16, false);
ySF6.axisLabel = Object.assign({ show: true, customValues: sf6Ticks, margin: 22, showMinLabel: true,
    formatter: function (v) { return v.toFixed(1); } }, labelFont);
ySF6.name = '{t|SF}{s|6}{t| (ppb)}';
ySF6.nameLocation = 'middle';
ySF6.nameGap = 68;
ySF6.nameTextStyle = { rich: subRich };

function gridBox(left, top, width, height) {
    return { left: left, top: top, width: width, height: height, show: true,
        borderColor: '#000', borderWidth: 3, backgroundColor: 'rgba(0,0,0,0)' };
}

// legend boxes drawn as graphics
function txt(x, y, s, align, size) {
    return { type: 'text', z: 102, x: x, y: y,
        style: { text: s, font: (size || 28) + 'px ' + FONT, fill: '#000',
            align: align, verticalAlign: 'middle', textAlign: align, textVerticalAlign: 'middle' } };
}
function key(kind, cx, cy) {
    if (kind === 'circle') return { type: 'circle', z: 102, shape: { cx: cx, cy: cy, r: 8 },
        style: { fill: 'none', stroke: RED, lineWidth: 1.4 } };
    if (kind === 'square') return { type: 'rect', z: 102, shape: { x: cx - 8, y: cy - 8, width: 16, height: 16 },
        style: { fill: 'none', stroke: BLUE, lineWidth: 1.8 } };
    if (kind === 'dot') return { type: 'rect', z: 102, shape: { x: cx - 4.5, y: cy - 4.5, width: 9, height: 9 },
        style: { fill: GREEN } };
    if (kind === 'triangle') return { type: 'polygon', z: 102,
        shape: { points: [[cx - 8.5, cy + 7], [cx + 8.5, cy + 7], [cx, cy - 8]] }, style: { fill: '#000' } };
    return { type: 'line', z: 102, shape: { x1: cx - 24, y1: cy, x2: cx + 24, y2: cy },
        style: { stroke: GREEN, lineWidth: 3.5 } };
}
function legendBox(x, y, w, h, first, step, items, title) {
    var els = [{ type: 'rect', z: 101, shape: { x: x, y: y, width: w, height: h },
        style: { fill: '#fff', stroke: '#000', lineWidth: 1.5 } }];
    if (title) els.push(txt(x + w / 2, y + 21, title, 'center'));
    items.forEach(function (it, i) {
        var cy = y + first + i * step;
        els.push(key(it[1], x + 35, cy));
        els.push(txt(x + 71, cy, it[0], 'left'));
    });
    return els;
}

var graphics = [].concat(
    legendBox(143, 270, 215, 165, 51, 30.7,
        [['UCATS', 'circle'], ['PANTHER', 'square'], ['QCLS', 'dot'], ['PFP', 'triangle']], 'ATom-2'),
    legendBox(826, 72, 216, 133, 19, 31,
        [['UCATS', 'circle'], ['PANTHER', 'square'], ['PFP', 'triangle'], ['1:1 line', 'line']]),
    legendBox(128, 863, 216, 102, 19, 30,
        [['UCATS', 'circle'], ['PANTHER', 'square'], ['PFP', 'triangle']]),
    legendBox(828, 580, 216, 104, 20, 30,
        [['UCATS', 'circle'], ['PANTHER', 'square'], ['PFP', 'triangle']]),
    [txt(765, 471, '(a)', 'right', 34), txt(1450, 471, '(b)', 'right', 34),
     txt(765, 975, '(c)', 'right', 34), txt(1453, 970, '(d)', 'right', 34)]
);

var myChart = echarts.init(document.getElementById('chart'));

option = {
    animation: false,
    backgroundColor: '#fff',
    grid: [
        gridBox(103, 8, 675, 500),
        gridBox(778, 8, 689, 500),
        gridBox(103, 508, 675, 499),
        gridBox(778, 508, 689, 499)
    ],
    xAxis: [
        hiddenAxis(0, 'bottom', timeMin, timeMax),
        tickAxis(0, 'top', timeMin, timeMax, timeTicks, 15, true),
        hiddenAxis(1, 'bottom', 270, 340),
        tickAxis(1, 'top', 270, 340, n2oTicks, 15, true),
        xTime,
        xQcls
    ],
    yAxis: [
        yN2O,
        hiddenAxis(1, 'left', 270, 340),
        tickAxis(1, 'right', 270, 340, n2oTicks, 17, true),
        ySF6,
        hiddenAxis(3, 'left', 8.0, 10.244),
        tickAxis(3, 'right', 8.0, 10.244, sf6Ticks.slice(1), 15, true)
    ],
    graphic: graphics,
    series: [
        // (a)
        squares('PANTHER', col(panther, 1), 0, 0),
        dots('QCLS', qcls, 0, 0),
        circles('UCATS', col(ucats, 1), 0, 0),
        triangles('PFP', col(pfp, 1), 0, 0),
        // (b)
        squares('PANTHER', pantherVsQclsN2O, 2, 1),
        circles('UCATS', ucatsVsQclsN2O, 2, 1),
        triangles('PFP', pfpVsQclsN2O, 2, 1),
        { type: 'line', name: '1:1 line', xAxisIndex: 2, yAxisIndex: 1, silent: true, symbol: 'none',
          data: oneToOne.map(function (v) { return [v, v]; }), z: 5,
          lineStyle: { color: GREEN, width: 3.5 } },
        // (c)
        squares('PANTHER', col(panther, 2), 4, 3),
        circles('UCATS', col(ucats, 2), 4, 3),
        triangles('PFP', col(pfp, 2), 4, 3),
        // (d)
        squares('PANTHER', pantherVsQclsSF6, 5, 4),
        circles('UCATS', ucatsVsQclsSF6, 5, 4),
        triangles('PFP', pfpVsQclsSF6, 5, 4)
    ]
};
myChart.setOption(option);
window.addEventListener('resize', function () { myChart.resize(); });
</script>
</body>
</html>
